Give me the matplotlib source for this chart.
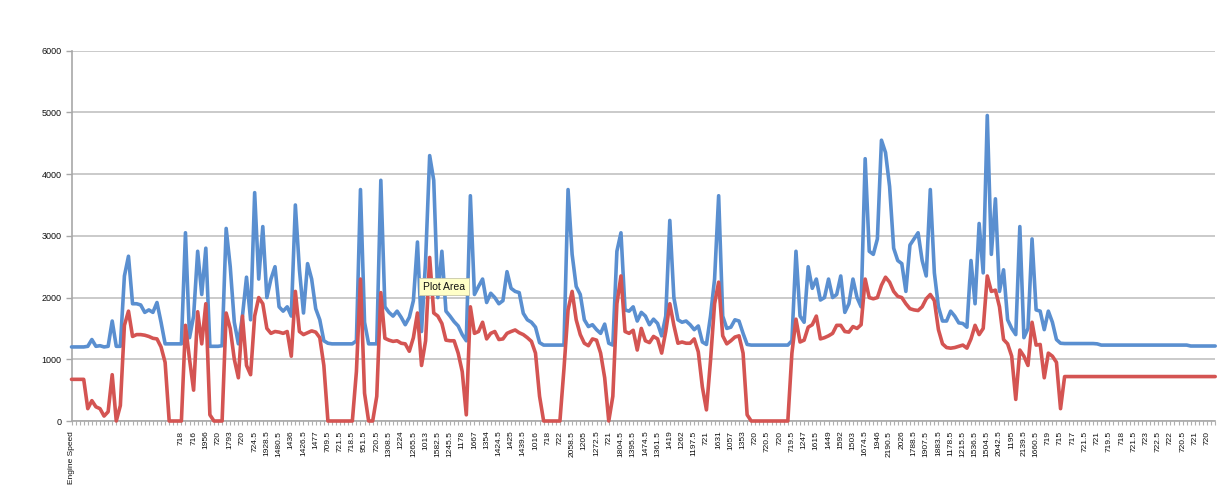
import matplotlib
matplotlib.use("Agg")
import matplotlib.pyplot as plt
from matplotlib.ticker import MultipleLocator

# ---- data ----
blue_series = [
    1200, 1200, 1200, 1200, 1210, 1320, 1210, 1220, 1200, 1210,
    1620, 1210, 1210, 2350, 2670, 1900, 1900, 1880, 1760, 1800,
    1760, 1920, 1600, 1250, 1250, 1250, 1250, 1250, 3050, 1350,
    1700, 2750, 2050, 2800, 1210, 1210, 1210, 1220, 3120, 2500,
    1600, 1250, 1700, 2330, 1640, 3700, 2300, 3150, 2000, 2300,
    2500, 1850, 1780, 1850, 1700, 3500, 2450, 1750, 2550, 2300,
    1820, 1640, 1300, 1260, 1250, 1250, 1250, 1250, 1250, 1250,
    1300, 3750, 1600, 1250, 1250, 1250, 3900, 1850, 1760, 1700,
    1780, 1680, 1560, 1680, 1950, 2900, 1450, 2600, 4300, 3900,
    2000, 2750, 1780, 1700, 1610, 1540, 1400, 1300, 3650, 2050,
    2180, 2300, 1920, 2070, 2000, 1900, 1950, 2420, 2150, 2100,
    2080, 1745, 1640, 1600, 1520, 1270, 1230, 1230, 1230, 1230,
    1230, 1230, 3750, 2700, 2180, 2050, 1640, 1530, 1560, 1480,
    1420, 1570, 1260, 1230, 2750, 3050, 1800, 1780, 1850, 1620,
    1760, 1700, 1560, 1650, 1580, 1380, 1700, 3250, 2000, 1640,
    1600, 1620, 1560, 1480, 1540, 1280, 1240, 1700, 2300, 3650,
    1700, 1500, 1520, 1640, 1620, 1420, 1240, 1230, 1230, 1230,
    1230, 1230, 1230, 1230, 1230, 1230, 1230, 1300, 2750, 1700,
    1600, 2500, 2150, 2300, 1960, 2000, 2300, 2000, 2050, 2350,
    1760, 1900, 2300, 2000, 1850, 4250, 2750, 2700, 2950, 4550,
    4350, 3800, 2800, 2600, 2550, 2100, 2850, 2950, 3050, 2600,
    2350, 3750, 2400, 1850, 1620, 1620, 1780, 1700, 1590, 1580,
    1520, 2600, 1900, 3200, 2400, 4950, 2700, 3600, 2100, 2450,
    1640, 1500, 1400, 3150, 1350, 1500, 2950, 1800, 1780, 1480,
    1780, 1600, 1320, 1260, 1255, 1255, 1255, 1255, 1255, 1255,
    1255, 1255, 1250, 1230, 1230, 1230, 1230, 1230, 1230, 1230,
    1230, 1230, 1230, 1230, 1230, 1230, 1230, 1230, 1230, 1230,
    1230, 1230, 1230, 1230, 1230, 1215, 1215, 1215, 1215, 1215,
    1215, 1215,
]

red_series = [
    675, 675, 675, 675, 200, 330, 230, 200, 80, 150,
    750, 0, 250, 1550, 1780, 1370, 1400, 1400, 1390, 1370,
    1340, 1330, 1200, 950, 0, 0, 0, 0, 1550, 1000,
    500, 1770, 1250, 1900, 100, 0, 0, 0, 1750, 1500,
    1000, 700, 1700, 900, 750, 1700, 2000, 1900, 1500, 1420,
    1450, 1440, 1420, 1450, 1050, 2100, 1450, 1400, 1430, 1460,
    1440, 1350, 900, 0, 0, 0, 0, 0, 0, 0,
    800, 2300, 450, 0, 0, 400, 2080, 1340, 1310, 1290,
    1300, 1260, 1250, 1130, 1350, 1750, 900, 1300, 2650, 1750,
    1700, 1580, 1310, 1300, 1300, 1100, 800, 100, 1850, 1420,
    1450, 1600, 1330, 1420, 1450, 1320, 1330, 1420, 1450, 1475,
    1430, 1400, 1350, 1290, 1100, 400, 0, 0, 0, 0,
    0, 850, 1800, 2100, 1640, 1400, 1260, 1220, 1330, 1310,
    1100, 700, 0, 400, 1900, 2350, 1450, 1420, 1470, 1150,
    1500, 1300, 1270, 1370, 1330, 1100, 1450, 1900, 1550, 1260,
    1280, 1260, 1260, 1330, 1120, 550, 180, 980, 1900, 2250,
    1380, 1250, 1300, 1360, 1380, 1100, 100, 0, 0, 0,
    0, 0, 0, 0, 0, 0, 0, 1100, 1650, 1280,
    1310, 1520, 1560, 1700, 1330, 1350, 1380, 1420, 1550, 1550,
    1450, 1440, 1530, 1500, 1560, 2300, 2000, 1980, 2000, 2200,
    2330, 2250, 2100, 2020, 2000, 1900, 1820, 1800, 1790, 1850,
    1980, 2050, 1950, 1480, 1250, 1190, 1180, 1190, 1210, 1230,
    1180, 1330, 1550, 1400, 1500, 2350, 2100, 2120, 1850, 1320,
    1250, 1050, 350, 1150, 1050, 900, 1600, 1230, 1240, 700,
    1100, 1050, 950, 200, 720, 720, 720, 720, 720, 720,
    720, 720, 720, 720, 720, 720, 720, 720, 720, 720,
    720, 720, 720, 720, 720, 720, 720, 720, 720, 720,
    720, 720, 720, 720, 720, 720, 720, 720, 720, 720,
    720, 720,
]

first_label = "Engine Speed"
speed_labels = [
    "718", "716", "1956", "720", "1793", "720", "724.5", "1928.5", "1480.5", "1436",
    "1426.5", "1477", "709.5", "721.5", "718.5",
    "951.5", "720.5", "1308.5", "1224", "1265.5", "1013", "1582.5", "1245.5", "1178",
    "1667", "1354", "1424.5", "1425", "1439.5", "1016", "718", "722", "2058.5", "1205",
    "1272.5", "721", "1804.5", "1395.5", "1474.5",
    "1361.5", "1419", "1262", "1197.5", "721", "1631", "1057", "1353", "720", "720.5",
    "720", "719.5", "1247", "1615", "1449", "1592", "1503", "1674.5", "1946", "2190.5",
    "2026", "1788.5", "1907.5",
    "1883.5", "1178.5", "1215.5", "1536.5", "1504.5", "2042.5", "1195", "2139.5",
    "1660.5", "719", "715", "717", "721.5", "721", "719.5", "718", "721.5", "723",
    "722.5", "722", "720.5", "721", "720",
]
label_start = 27
label_step = 3
y_ticks = [0, 1000, 2000, 3000, 4000, 5000, 6000]

# ---- figure ----
W, H = 1226, 486
fig = plt.figure(figsize=(W / 100, H / 100), dpi=100)
left_px, right_px, top_px, bottom_px = 71.5, 1215.2, 50.7, 421.0
ax = fig.add_axes([left_px / W, 1 - bottom_px / H,
                   (right_px - left_px) / W, (bottom_px - top_px) / H])

x = list(range(len(blue_series)))
ax.plot(x, blue_series, color='#5a8fd0', lw=2.6, solid_joinstyle='round',
        solid_capstyle='round', clip_on=False, zorder=3)
ax.plot(x, red_series, color='#d45452', lw=2.6, solid_joinstyle='round',
        solid_capstyle='round', clip_on=False, zorder=4)

ax.set_xlim(0, len(blue_series) - 1)
ax.set_ylim(0, 6000)
ax.set_yticks(y_ticks)
ax.yaxis.grid(True, color='#c6c6c6', lw=1.3, zorder=0)
ax.set_axisbelow(True)

for s in ('top', 'right'):
    ax.spines[s].set_visible(False)
for s in ('left', 'bottom'):
    ax.spines[s].set_color('#a8a8a8')
    ax.spines[s].set_linewidth(1.2)

tick_pos = [0] + [label_start + k * label_step for k in range(len(speed_labels))]
tick_lab = [first_label] + speed_labels
ax.set_xticks(tick_pos)
ax.set_xticklabels(tick_lab, rotation=90, fontsize=6, family='Liberation Sans',
                   color='#111111')
ax.xaxis.set_minor_locator(MultipleLocator(1))
ax.tick_params(axis='x', which='both', length=3, color='#b0b0b0', width=0.8, pad=4)
ax.tick_params(axis='y', length=4, color='#a8a8a8', width=1.0, pad=3,
               labelsize=6.5, labelcolor='#111111')
for t in ax.get_yticklabels():
    t.set_family('Liberation Sans')

# tooltip present in the reference screenshot
fig.text(444 / W, 1 - 286.5 / H, "Plot Area", ha='center', va='center',
         fontsize=7.5, family='Liberation Sans', color='#111111', zorder=10,
         bbox=dict(boxstyle='square,pad=0.35', facecolor='#ffffc8',
                   edgecolor='#c8c8a8', lw=0.6))

fig.savefig('out.png', dpi=100)
